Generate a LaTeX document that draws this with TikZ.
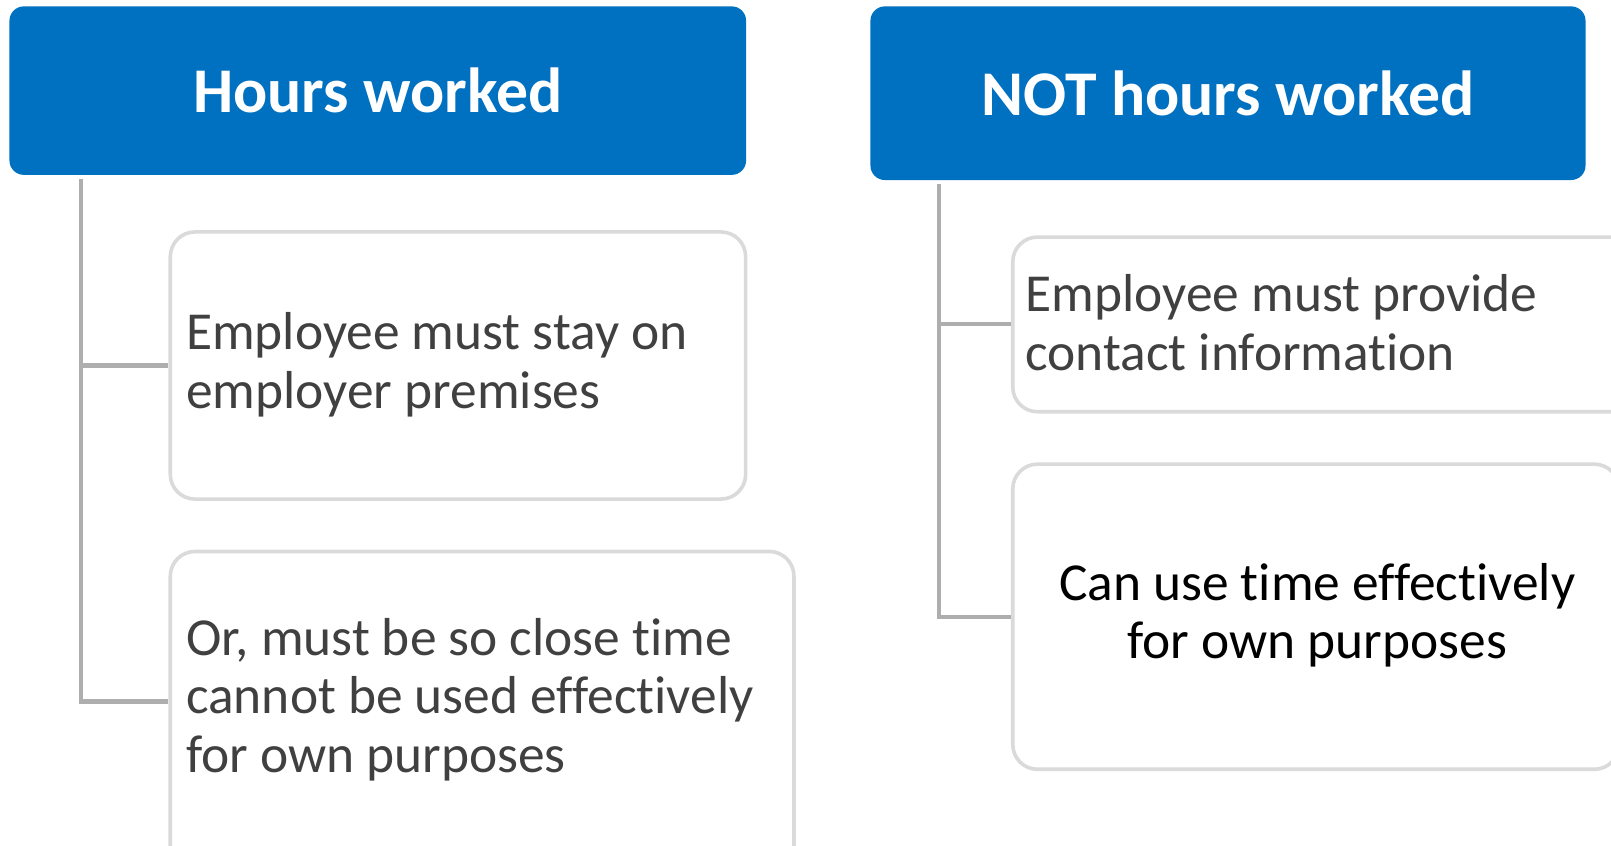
\documentclass[tikz,border=0pt]{standalone}
\usepackage{fontspec}
\setmainfont{Carlito}[Ligatures=NoCommon]
\definecolor{hdrblue}{HTML}{0070C0}
\definecolor{boxline}{HTML}{DADADA}
\definecolor{connline}{HTML}{AEAEAE}
\definecolor{bodytext}{HTML}{404040}
\begin{document}
\begin{tikzpicture}[x=1pt,y=-1pt,
  header/.style={fill=hdrblue, draw=none, rounded corners=14pt, inner sep=0pt, anchor=north west},
  headtext/.style={text=white, inner sep=0pt, font=\fontsize{62}{70}\bfseries\selectfont},
  itembox/.style={draw=boxline, line width=3.5pt, fill=white, rounded corners=24pt, inner sep=0pt, anchor=north west},
  itemtext/.style={anchor=west, align=left, inner sep=0pt, text=bodytext, font=\fontsize{52}{57}\selectfont},
  conn/.style={draw=connline, line width=4pt}]
\useasboundingbox (0,0) rectangle (1568,822.5);
% headers
\node[header, minimum width=717pt, minimum height=164pt] (h1) at (9,6) {};
\node[headtext] (h1t) at (h1.center) {Hours worked};
\node[header, minimum width=696pt, minimum height=169pt] (h2) at (847,6) {};
\node[headtext] (h2t) at (h2.center) {NOT hours worked};
% boxes
\node[itembox, minimum width=560pt, minimum height=260pt] (b1) at (164,224) {};
\node[itembox, minimum width=607pt, minimum height=318pt] (b2) at (164,535) {};
\node[itembox, minimum width=700pt, minimum height=170pt] (b3) at (984,229) {};
\node[itembox, minimum width=590pt, minimum height=297pt] (b4) at (984,450) {};
% texts
\node[itemtext] (t1) at (181,355) {Employee must stay on\\employer premises};
\node[itemtext] (t2) at (181,681) {Or, must be so close time\\cannot be used effectively\\for own purposes};
\node[itemtext] (t3) at (998,314) {Employee must provide\\contact information};
\node[itemtext, anchor=center, align=center, text=black] (t4) at (1282,599) {Can use time effectively\\for own purposes};
% connectors
\coordinate (lroot) at (79,174);
\coordinate (rroot) at (914,179);
\draw[conn] (lroot) |- ([yshift=13pt]b2.west);
\draw[conn] (lroot |- b1.west) -- (b1.west);
\draw[conn] (rroot) |- (b4.west);
\draw[conn] (rroot |- b3.west) -- (b3.west);
\end{tikzpicture}
\end{document}
